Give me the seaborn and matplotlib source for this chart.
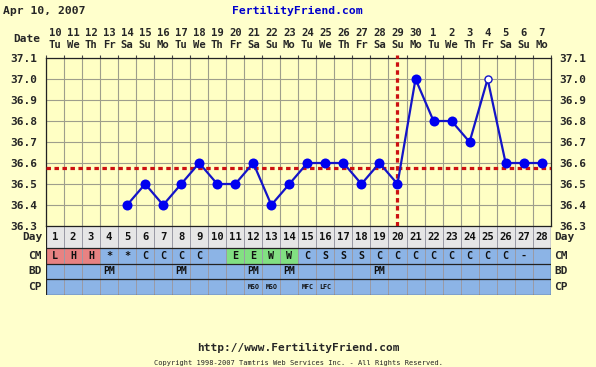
import matplotlib
matplotlib.use("Agg")
import matplotlib.pyplot as plt
import numpy as np
import pandas as pd
import seaborn as sns

# chart data
cycle_days = list(range(1, 29))
dates = [10, 11, 12, 13, 14, 15, 16, 17, 18, 19, 20, 21, 22, 23, 24, 25, 26, 27, 28, 29, 30,
         1, 2, 3, 4, 5, 6, 7]
weekdays = ["Tu", "We", "Th", "Fr", "Sa", "Su", "Mo"] * 4

temp_days = list(range(5, 29))
temps = [36.4, 36.5, 36.4, 36.5, 36.6, 36.5, 36.5, 36.6, 36.4, 36.5, 36.6, 36.6,
         36.6, 36.5, 36.6, 36.5, 37.0, 36.8, 36.8, 36.7, 37.0, 36.6, 36.6, 36.6]
open_days = [25]  # discarded / open-circle temps
coverline = 36.575
ovulation_day = 20

cm = ["L", "H", "H", "*", "*", "C", "C", "C", "C", "", "E", "E", "W", "W",
      "C", "S", "S", "S", "C", "C", "C", "C", "C", "C", "C", "C", "-", ""]
bd = ["", "", "", "PM", "", "", "", "PM", "", "", "", "PM", "", "PM",
      "", "", "", "", "PM", "", "", "", "", "", "", "", "", ""]
cp = ["", "", "", "", "", "", "", "", "", "", "", "MSO", "MSO", "",
      "MFC", "LFC", "", "", "", "", "", "", "", "", "", "", "", ""]

y_ticks = [36.3, 36.4, 36.5, 36.6, 36.7, 36.8, 36.9, 37.0, 37.1]

# colours
BG = "#FFFFCC"
PLOT_BG = "#FFFFC4"
GRID = "#9E9E8C"
BLUE_LINE = "#1414C8"
BLUE_DOT = "#0000F0"
RED = "#CC1111"
DAY_ROW = "#E6E6E6"
CELL_BLUE = "#8CB4E6"
CELL_RED = "#E88282"
CELL_GREEN = "#82E082"

sns.set_style("white")
plt.rcParams["font.family"] = ["DejaVu Sans Mono"]
plt.rcParams["font.weight"] = "bold"

W, H = 596, 367
fig = plt.figure(figsize=(W / 100, H / 100), dpi=100, facecolor=BG)

x0, x1 = 46, 550.7
ax = fig.add_axes([x0 / W, 1 - 226 / H, (x1 - x0) / W, 168 / H])
ax.set_facecolor(PLOT_BG)

df = pd.DataFrame({"day": temp_days, "temp": temps})
df["open"] = df["day"].isin(open_days)

# grid
ax.set_xlim(0.5, 28.5)
ax.set_ylim(36.3, 37.1)
ax.set_xticks(np.arange(0.5, 29, 1))
ax.set_yticks(y_ticks, labels=[f"{v:.1f}" for v in y_ticks])
ax.grid(True, color=GRID, lw=0.8)
ax.tick_params(axis="x", bottom=False, top=True, length=2, color="#444444",
               labelbottom=False, labeltop=False)
ax.tick_params(axis="y", left=False, right=False, labelleft=True, labelright=True,
               labelsize=8, pad=3)
for s in ax.spines.values():
    s.set_color("#222222")
    s.set_linewidth(0.9)

# coverline and ovulation line
ax.axhline(coverline, color=RED, lw=2.3, ls=(0, (1.4, 1.1)), zorder=3)
ax.axvline(ovulation_day, ymin=0, ymax=1.02, color=RED, lw=2.3,
           ls=(0, (1.4, 1.1)), clip_on=False, zorder=3)

# temperatures
sns.lineplot(data=df, x="day", y="temp", ax=ax, color=BLUE_LINE, lw=1.6,
             zorder=4, legend=False)
sns.scatterplot(data=df[~df["open"]], x="day", y="temp", ax=ax, color=BLUE_DOT,
                s=52, edgecolor=BLUE_DOT, linewidth=0, zorder=5, legend=False)
sns.scatterplot(data=df[df["open"]], x="day", y="temp", ax=ax, color="white",
                s=26, edgecolor=BLUE_LINE, linewidth=1, zorder=5, legend=False)
ax.set_xlabel("")
ax.set_ylabel("")

# top date / weekday labels
top = ax.secondary_xaxis("top")
top.set_xticks(cycle_days, labels=[f"{d}\n{w}" for d, w in zip(dates, weekdays)])
top.tick_params(length=0, pad=6, labelsize=7.6)
for lab in top.get_xticklabels():
    lab.set_linespacing(1.2)
top.spines["top"].set_visible(False)

fig.text(40 / W, 1 - 39 / H, "Date", ha="right", va="center", fontsize=8, weight="bold")
fig.text(3 / W, 1 - 11 / H, "Apr 10, 2007", ha="left", va="center", fontsize=8.2,
         weight="bold")
fig.text(297 / W, 1 - 11 / H, "FertilityFriend.com", ha="center", va="center",
         fontsize=8.2, weight="bold", color="#0000CC")

# table below the chart
tb = fig.add_axes([x0 / W, 1 - 294.5 / H, (x1 - x0) / W, 68.5 / H])
tb.set_xlim(0.5, 28.5)
tb.set_ylim(68.5, 0)
tb.axis("off")

rows = [("Day", 0, 22), ("CM", 22, 37.5), ("BD", 37.5, 53), ("CP", 53, 68.5)]
cm_colors = [CELL_RED if c in ("L", "H") else CELL_GREEN if c in ("E", "W") else CELL_BLUE
             for c in cm]
row_colors = {"Day": [DAY_ROW] * 28, "CM": cm_colors,
              "BD": [CELL_BLUE] * 28, "CP": [CELL_BLUE] * 28}
row_text = {"Day": [str(d) for d in cycle_days], "CM": cm, "BD": bd, "CP": cp}
row_size = {"Day": 7.6, "CM": 7.2, "BD": 7, "CP": 4.8}

for name, y_top, y_bot in rows:
    tb.bar(cycle_days, y_bot - y_top, bottom=y_top, width=1, color=row_colors[name],
           edgecolor="#9A9AA6", linewidth=0.7)
    yc = (y_top + y_bot) / 2
    for d, t in zip(cycle_days, row_text[name]):
        if t:
            tb.text(d, yc, t, ha="center", va="center", fontsize=row_size[name],
                    weight="bold", color="#111111")
    tb.text(0.28, yc, name, ha="right", va="center", fontsize=8, weight="bold",
            clip_on=False)
    tb.text(28.68, yc, name, ha="left", va="center", fontsize=8, weight="bold",
            clip_on=False)
for yb in [0, 22, 37.5, 53, 68.5]:
    tb.axhline(yb, color="#222222", lw=0.9)
tb.axvline(0.5, color="#222222", lw=0.9)
tb.axvline(28.5, color="#222222", lw=0.9)

# footer
fig.text(0.5, 1 - 348 / H, "http://www.FertilityFriend.com", ha="center", va="center",
         fontsize=8, weight="bold")
fig.text(0.5, 1 - 363 / H,
         "Copyright 1998-2007 Tamtris Web Services Inc. - All Rights Reserved.",
         ha="center", va="center", fontsize=5, weight="normal")

fig.savefig("out.png", dpi=100, facecolor=BG)
